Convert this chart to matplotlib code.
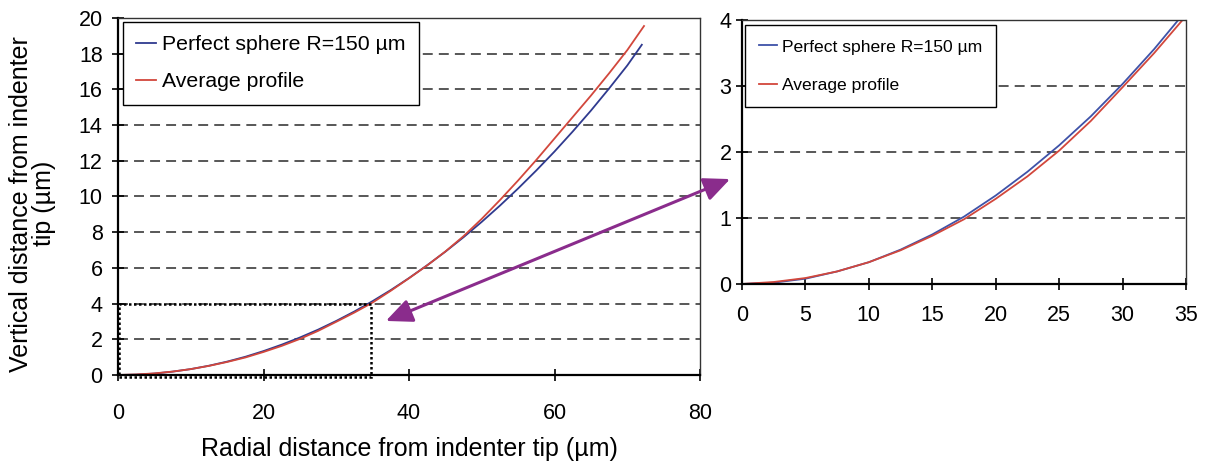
import matplotlib
matplotlib.use("Agg")
import matplotlib.pyplot as plt
from matplotlib.patches import FancyArrowPatch, Rectangle

plt.rcParams["font.family"] = ["Liberation Sans", "DejaVu Sans"]

# radial positions (um) and measured heights (um)
sphere_x = [0, 2.5, 5, 7.5, 10, 12.5, 15, 17.5, 20, 22.5, 25, 27.5, 30, 32.5, 35,
            37.5, 40, 42.5, 45, 47.5, 50, 52.5, 55, 57.5, 60, 62.5, 65, 67.5, 70, 72]
sphere_y = [0, 0.02, 0.08, 0.19, 0.33, 0.52, 0.75, 1.02, 1.34, 1.70, 2.10, 2.54, 3.03, 3.56, 4.14,
            4.76, 5.43, 6.15, 6.91, 7.72, 8.58, 9.49, 10.45, 11.46, 12.52, 13.64, 14.81, 16.05, 17.34, 18.5]

profile_x = [0, 2.5, 5, 7.5, 10, 12.5, 15, 17.5, 20, 22.5, 25, 27.5, 30, 32.5, 35,
             37.5, 40, 42.5, 45, 47.5, 50, 52.5, 55, 57.5, 60, 62.5, 65, 67.5, 70, 72.3]
profile_y = [0, 0.03, 0.09, 0.19, 0.33, 0.51, 0.73, 0.98, 1.29, 1.63, 2.02, 2.47, 2.98, 3.50, 4.06,
             4.72, 5.42, 6.14, 6.92, 7.78, 8.75, 9.80, 10.90, 12.05, 13.25, 14.45, 15.65, 16.90, 18.20, 19.55]

left_yticks = [0, 2, 4, 6, 8, 10, 12, 14, 16, 18, 20]
left_xticks = [0, 20, 40, 60, 80]
right_yticks = [0, 1, 2, 3, 4]
right_xticks = [0, 5, 10, 15, 20, 25, 30, 35]

BLUE = "#2f3a8f"
RED = "#d2473c"
PURPLE = "#8a2c8c"
GRID = dict(color="#2a2a2a", linestyle=(0, (6.5, 4)), linewidth=1.1)


def style_axes(ax, xticks, yticks, ticksize, xpad, ypad):
    ax.set_xticks(xticks)
    ax.set_yticks(yticks)
    ax.set_xlim(xticks[0], xticks[-1])
    ax.set_ylim(yticks[0], yticks[-1])
    for y in yticks[1:-1]:
        ax.axhline(y, zorder=0, **GRID)
    for side in ("left", "bottom"):
        ax.spines[side].set_linewidth(1.6)
        ax.spines[side].set_color("black")
    for side in ("top", "right"):
        ax.spines[side].set_linestyle((0, (1, 1)))
        ax.spines[side].set_linewidth(1.0)
        ax.spines[side].set_color("#333333")
    ax.tick_params(direction="inout", length=8, width=1.2, labelsize=ticksize)
    ax.tick_params(axis="x", pad=xpad)
    ax.tick_params(axis="y", pad=ypad)


fig = plt.figure(figsize=(12.13, 4.66), dpi=100)
ax1 = fig.add_axes([0.0973, 0.1953, 0.4798, 0.7661])
ax2 = fig.add_axes([0.6117, 0.3906, 0.3660, 0.5665])

ax1.plot(sphere_x, sphere_y, color=BLUE, lw=1.3, label="Perfect sphere R=150 µm")
ax1.plot(profile_x, profile_y, color=RED, lw=1.3, label="Average profile")
style_axes(ax1, left_xticks, left_yticks, 15.5, xpad=16, ypad=7)
ax1.set_xlabel("Radial distance from indenter tip (µm)", fontsize=18)
ax1.xaxis.set_label_coords(0.5, -0.175)
ax1.set_ylabel("Vertical distance from indenter\ntip (µm)", fontsize=18, linespacing=0.95)
ax1.yaxis.set_label_coords(-0.106, 0.48)

# dotted box marking the enlarged region
ax1.add_patch(Rectangle((0.2, -0.1), 34.6, 4.1, fill=False, ec="black",
                        ls=(0, (1, 1)), lw=1.8, zorder=3, clip_on=False))

leg1 = ax1.legend(loc="upper left", bbox_to_anchor=(0.008, 0.99), fontsize=15.3,
                  handlelength=0.9, handletextpad=0.3, labelspacing=0.85,
                  borderpad=0.65, borderaxespad=0, fancybox=False, framealpha=1,
                  edgecolor="black")
leg1.get_frame().set_linewidth(1.0)

ax2.plot(sphere_x, sphere_y, color="#3e52a8", lw=1.3, label="Perfect sphere R=150 µm")
ax2.plot(profile_x, profile_y, color=RED, lw=1.3, label="Average profile")
style_axes(ax2, right_xticks, right_yticks, 15.5, xpad=11, ypad=3.5)

leg2 = ax2.legend(loc="upper left", bbox_to_anchor=(0.007, 0.98), fontsize=12.6,
                  handlelength=1.0, handletextpad=0.3, labelspacing=1.35,
                  borderpad=0.8, borderaxespad=0, fancybox=False, framealpha=1,
                  edgecolor="black")
leg2.get_frame().set_linewidth(1.0)

# double-headed arrow linking the box to the enlarged view
arrow = FancyArrowPatch((0.316, 0.309), (0.604, 0.618), transform=fig.transFigure,
                        arrowstyle="<|-|>,head_length=1.0,head_width=0.45",
                        mutation_scale=16, color=PURPLE, lw=2.2)
fig.patches.append(arrow)

fig.savefig("out.png", dpi=100)
